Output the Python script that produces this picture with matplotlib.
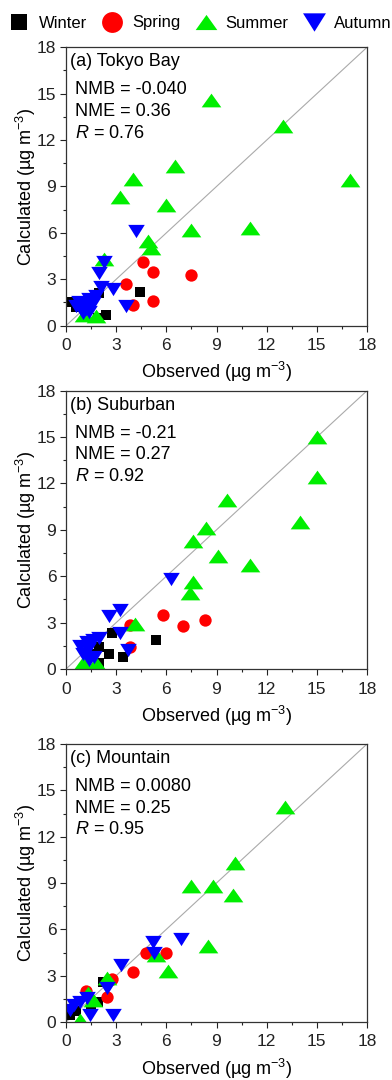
import matplotlib
matplotlib.use('Agg')
import matplotlib.pyplot as plt
from matplotlib.lines import Line2D
import numpy as np

plt.rcParams['font.family'] = ['Liberation Sans', 'DejaVu Sans']
plt.rcParams['mathtext.fontset'] = 'custom'
plt.rcParams['mathtext.rm'] = 'Liberation Sans'
plt.rcParams['mathtext.it'] = 'Liberation Sans:italic'

# (observed, calculated) pairs per site and season
tokyo_winter = [(0.2, 1.55), (0.6, 1.2), (1.2, 0.9), (2.0, 2.1), (1.9, 0.5), (2.4, 0.7), (4.4, 2.2)]
tokyo_spring = [(4.6, 4.1), (5.2, 3.5), (7.5, 3.3), (3.6, 2.7), (5.2, 1.6), (4.0, 1.35)]
tokyo_summer = [(8.7, 14.6), (13.0, 12.9), (17.0, 9.4), (6.5, 10.3), (4.0, 9.5), (3.2, 8.3), (6.0, 7.8),
                (7.5, 6.2), (11.0, 6.3), (4.9, 5.5), (5.1, 5.0), (2.3, 4.3), (1.1, 0.7), (1.8, 0.6)]
tokyo_autumn = [(4.2, 6.1), (2.3, 4.1), (2.0, 3.4), (2.8, 2.35), (2.1, 2.5), (3.6, 1.3), (0.8, 1.55),
                (1.2, 1.1), (1.6, 1.45), (1.8, 1.9), (1.0, 0.8), (1.4, 0.9), (0.6, 1.25), (1.4, 1.7), (1.0, 1.4)]

suburb_winter = [(5.4, 1.9), (2.75, 2.35), (3.4, 0.75), (2.55, 0.95), (2.0, 1.45), (2.0, 0.4), (1.5, 1.0)]
suburb_spring = [(5.8, 3.5), (8.3, 3.2), (7.0, 2.8), (3.8, 2.85), (3.8, 1.45)]
suburb_summer = [(15.0, 15.0), (15.0, 12.4), (14.0, 9.5), (9.6, 10.9), (8.4, 9.1), (7.6, 8.3), (9.1, 7.3),
                 (11.0, 6.7), (7.6, 5.6), (7.4, 4.9), (4.1, 2.9), (1.0, 0.4), (1.8, 0.4)]
suburb_autumn = [(6.3, 5.8), (3.2, 3.8), (2.6, 3.45), (3.2, 2.35), (3.7, 1.2), (1.6, 1.9), (2.0, 2.0),
                 (0.85, 1.5), (1.25, 1.75), (1.0, 1.0), (1.35, 0.6), (1.65, 0.8), (1.3, 1.3)]

mount_winter = [(2.2, 2.6), (1.9, 1.3), (1.5, 1.0), (0.25, 0.45), (0.6, 0.7)]
mount_spring = [(6.0, 4.45), (4.8, 4.45), (4.0, 3.25), (2.75, 2.8), (1.2, 2.0), (2.45, 1.6)]
mount_summer = [(13.1, 13.9), (10.1, 10.3), (7.5, 8.8), (8.8, 8.8), (10.0, 8.2), (8.5, 4.95), (6.1, 3.3),
                (5.4, 4.35), (2.45, 2.85), (1.6, 1.4), (1.3, 1.85), (0.85, 0.15)]
mount_autumn = [(6.9, 5.4), (5.2, 5.2), (5.25, 4.45), (3.3, 3.7), (2.45, 2.2), (2.8, 0.45), (0.45, 1.1),
                (0.85, 1.3), (1.25, 1.55), (1.45, 0.45), (0.25, 0.8)]

titles = ['(a) Tokyo Bay', '(b) Suburban', '(c) Mountain']
nmb = ['-0.040', '-0.21', '0.0080']
nme = ['0.36', '0.27', '0.25']
r_vals = ['0.76', '0.92', '0.95']
seasons = ['Winter', 'Spring', 'Summer', 'Autumn']

# flatter triangles, like the original plotting program
tri_up = [(-1, -0.7), (1, -0.7), (0, 0.7)]
tri_down = [(-1, 0.8), (1, 0.8), (0, -0.8)]

colors = ['black', '#ff0000', '#00ee00', '#0000ff']
markers = ['s', 'o', tri_up, tri_down]
sizes = [59, 79, 200, 142]
legend_sizes = [12, 15, 15.6, 16.5]

panels = [
    [tokyo_winter, tokyo_spring, tokyo_summer, tokyo_autumn],
    [suburb_winter, suburb_spring, suburb_summer, suburb_autumn],
    [mount_winter, mount_spring, mount_summer, mount_autumn],
]

fig = plt.figure(figsize=(3.92, 10.8), dpi=100)
W, H = 392, 1080
left, right = 66, 367
tops = [47.3, 390.7, 744]
bottoms = [325.7, 669, 1022]

for i, data in enumerate(panels):
    ax = fig.add_axes([left / W, 1 - bottoms[i] / H, (right - left) / W, (bottoms[i] - tops[i]) / H])
    ax.plot([0, 18], [0, 18], color='#aaaaaa', lw=0.8, zorder=1)
    for pts, c, m, s in zip(data, colors, markers, sizes):
        arr = np.array(pts)
        ax.scatter(arr[:, 0], arr[:, 1], marker=m, s=s, c=c, linewidths=0, zorder=2)
    ax.set_xlim(0, 18)
    ax.set_ylim(0, 18)
    ax.set_xticks(np.arange(0, 19, 3))
    ax.set_yticks(np.arange(0, 19, 3))
    ax.set_xticks(np.arange(1.5, 18, 3), minor=True)
    ax.set_yticks(np.arange(1.5, 18, 3), minor=True)
    ax.tick_params(which='major', direction='out', length=4, width=0.8, labelsize=12.5, colors='#222222')
    ax.tick_params(which='minor', direction='out', length=2.5, width=0.8, colors='#222222')
    ax.tick_params(axis='x', which='major', pad=5)
    ax.tick_params(axis='y', which='major', pad=3)
    for sp in ax.spines.values():
        sp.set_color('#333333')
        sp.set_linewidth(0.9)
    ax.set_xlabel('Observed (µg m$^{-3}$)', fontsize=13, labelpad=5)
    ax.set_ylabel('Calculated (µg m$^{-3}$)', fontsize=13, labelpad=-1)
    ax.text(0.013, 0.948, titles[i], transform=ax.transAxes, fontsize=13, va='center', ha='left')
    ax.text(0.03, 0.847, 'NMB = ' + nmb[i], transform=ax.transAxes, fontsize=13, va='center', ha='left')
    ax.text(0.03, 0.769, 'NME = ' + nme[i], transform=ax.transAxes, fontsize=13, va='center', ha='left')
    ax.text(0.03, 0.691, '$\\mathit{R}$ = ' + r_vals[i], transform=ax.transAxes, fontsize=13, va='center', ha='left')

handles = [Line2D([], [], ls='none', marker=m, color=c, markersize=ms, markeredgewidth=0)
           for m, c, ms in zip(markers, colors, legend_sizes)]
fig.legend(handles, seasons, loc='center left', bbox_to_anchor=(9 / W, 1 - 23 / H), ncol=4,
           frameon=False, fontsize=12, handlelength=1.2, handletextpad=0.6, columnspacing=0.9,
           borderpad=0, borderaxespad=0)

fig.savefig('out.png', dpi=100)
